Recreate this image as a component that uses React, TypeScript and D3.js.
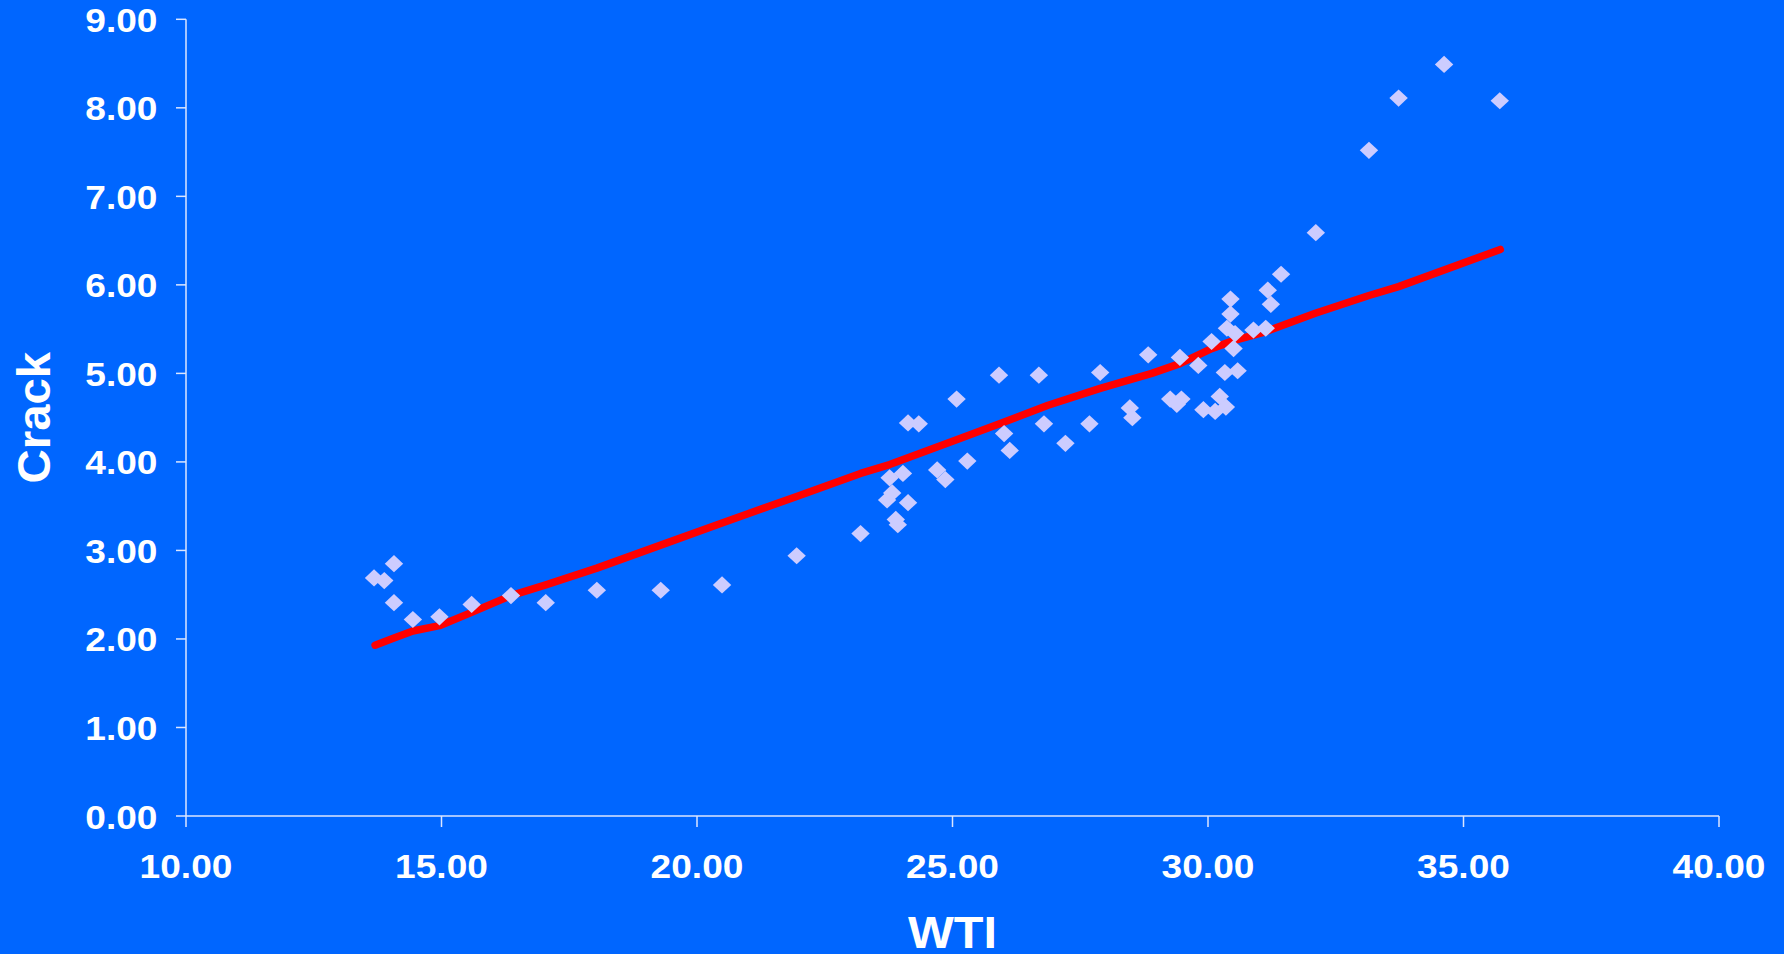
import React from "react";
import * as d3 from "d3";

const wti = [13.68, 13.88, 14.07, 14.07, 14.44, 14.96, 15.59, 16.36, 17.04, 18.04, 19.29, 20.49, 21.95, 23.2, 23.72, 23.77, 23.82, 23.89, 23.93, 24.03, 24.13, 24.13, 24.34, 24.7, 24.86, 25.08, 25.29, 25.91, 26.01, 26.12, 26.69, 26.79, 27.21, 27.68, 27.89, 28.47, 28.52, 28.83, 29.26, 29.39, 29.45, 29.48, 29.81, 29.91, 30.07, 30.14, 30.23, 30.33, 30.35, 30.37, 30.44, 30.44, 30.5, 30.53, 30.58, 30.89, 31.13, 31.17, 31.23, 31.43, 32.11, 33.15, 33.73, 34.62, 35.71];
const crack = [2.69, 2.66, 2.85, 2.41, 2.22, 2.25, 2.39, 2.49, 2.41, 2.55, 2.55, 2.61, 2.94, 3.19, 3.57, 3.82, 3.65, 3.35, 3.29, 3.87, 3.54, 4.44, 4.43, 3.91, 3.8, 4.71, 4.01, 4.98, 4.32, 4.13, 4.98, 4.43, 4.21, 4.43, 5.01, 4.61, 4.5, 5.21, 4.71, 4.65, 5.18, 4.71, 5.09, 4.59, 5.36, 4.57, 4.74, 5.01, 4.62, 5.51, 5.84, 5.67, 5.28, 5.45, 5.03, 5.49, 5.51, 5.94, 5.78, 6.12, 6.59, 7.52, 8.11, 8.49, 8.08];

const fitX = [13.7, 14.07, 14.44, 14.96, 15.59, 16.36, 17.04, 18.04, 19.29, 20.49, 21.95, 23.2, 23.77, 25.08, 25.96, 26.87, 27.89, 28.9, 29.45, 30.07, 30.5, 31.12, 32.1, 33.15, 33.73, 35.72];
const fitY = [1.93, 2.01, 2.09, 2.15, 2.3, 2.49, 2.61, 2.8, 3.06, 3.31, 3.61, 3.87, 3.97, 4.25, 4.44, 4.64, 4.83, 5.0, 5.11, 5.28, 5.37, 5.47, 5.68, 5.88, 5.98, 6.4];

const xTicks = [10, 15, 20, 25, 30, 35, 40];
const yTicks = [0, 1, 2, 3, 4, 5, 6, 7, 8, 9];

const W = 1784;
const H = 954;
const left = 186;
const right = 1719;
const top = 19.3;
const bottom = 816;

export default function App() {
  const x = d3.scaleLinear().domain([10, 40]).range([left, right]);
  const y = d3.scaleLinear().domain([0, 9]).range([bottom, top]);
  const line = d3
    .line<number>()
    .x((_, i) => x(fitX[i]))
    .y((d) => y(d));
  const axisColor = "#DCE6FF";
  const font = "'Liberation Sans', Arial, Helvetica, sans-serif";
  const stretch = 1.09;
  return (
    <div style={{ position: "fixed", left: 0, top: 0, width: W, height: H }}>
      <svg width={W} height={H} style={{ display: "block" }}>
        <rect x={0} y={0} width={W} height={H} fill="#0066FF" />
        {/* axes */}
        <line x1={left} y1={top} x2={left} y2={bottom} stroke={axisColor} strokeWidth={1.5} />
        <line x1={left} y1={bottom} x2={right} y2={bottom} stroke={axisColor} strokeWidth={1.5} />
        {yTicks.map((t) => (
          <g key={"y" + t}>
            <line x1={left - 10} x2={left} y1={y(t)} y2={y(t)} stroke={axisColor} strokeWidth={1.5} />
            <text
              x={157.5}
              y={y(t) + 12.5}
              textAnchor="end"
              fill="#FFFFFF"
              fontFamily={font}
              fontWeight="bold"
              fontSize={34}
              textLength={1.946 * 34 * stretch}
              lengthAdjust="spacingAndGlyphs"
            >
              {t.toFixed(2)}
            </text>
          </g>
        ))}
        {xTicks.map((t) => (
          <g key={"x" + t}>
            <line x1={x(t)} x2={x(t)} y1={bottom} y2={bottom + 11} stroke={axisColor} strokeWidth={1.5} />
            <text
              x={x(t)}
              y={878.3}
              textAnchor="middle"
              fill="#FFFFFF"
              fontFamily={font}
              fontWeight="bold"
              fontSize={34}
              textLength={2.502 * 34 * stretch}
              lengthAdjust="spacingAndGlyphs"
            >
              {t.toFixed(2)}
            </text>
          </g>
        ))}
        {/* fitted line */}
        <path
          d={line(fitY) || ""}
          fill="none"
          stroke="#FF0000"
          strokeWidth={7.5}
          strokeLinecap="round"
          strokeLinejoin="round"
        />
        {/* points */}
        {wti.map((v, i) => {
          const cx = x(v);
          const cy = y(crack[i]);
          return (
            <path
              key={"p" + i}
              d={`M${cx},${cy - 8.6}L${cx + 9.2},${cy}L${cx},${cy + 8.6}L${cx - 9.2},${cy}Z`}
              fill="#CCCCFF"
            />
          );
        })}
        {/* titles */}
        <text
          x={(left + right) / 2}
          y={948}
          textAnchor="middle"
          fill="#FFFFFF"
          fontFamily={font}
          fontWeight="bold"
          fontSize={45}
          textLength={89}
          lengthAdjust="spacingAndGlyphs"
        >
          WTI
        </text>
        <text
          transform={`translate(49.5,${(top + bottom) / 2}) rotate(-90)`}
          textAnchor="middle"
          fill="#FFFFFF"
          fontFamily={font}
          fontWeight="bold"
          fontSize={47}
          textLength={131.6}
          lengthAdjust="spacingAndGlyphs"
        >
          Crack
        </text>
      </svg>
    </div>
  );
}
